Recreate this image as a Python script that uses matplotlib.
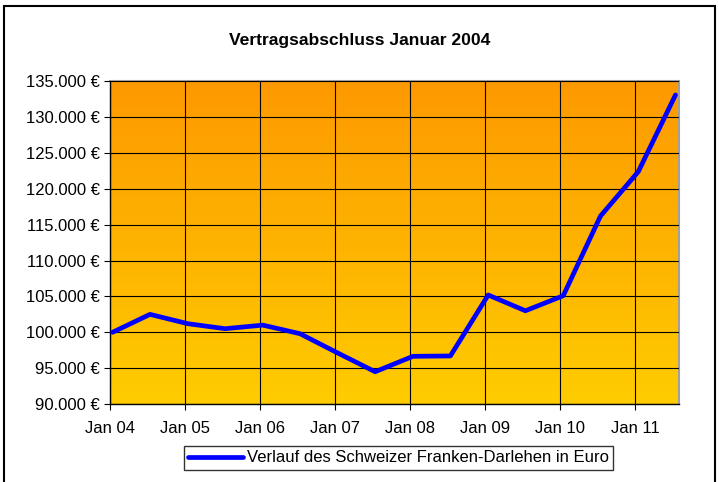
import matplotlib
matplotlib.use("Agg")
import matplotlib.pyplot as plt
import matplotlib.dates as mdates
from matplotlib.colors import LinearSegmentedColormap
from matplotlib.patches import Rectangle
import numpy as np
import datetime as dt

plt.rcParams['font.family'] = ['Liberation Sans', 'DejaVu Sans']

dates = ["2004-01-15", "2004-07-15", "2005-01-15", "2005-07-15", "2006-01-15", "2006-07-15",
         "2007-01-15", "2007-07-15", "2008-01-15", "2008-07-15", "2009-01-15", "2009-07-15",
         "2010-01-15", "2010-07-15", "2011-01-15", "2011-07-15"]
values = [100000, 102500, 101200, 100500, 101000, 99800, 97100, 94500,
          96650, 96700, 105200, 103000, 105100, 116200, 122400, 133100]
tick_years = [2004, 2005, 2006, 2007, 2008, 2009, 2010, 2011]
title = "Vertragsabschluss Januar 2004"
legend_label = "Verlauf des Schweizer Franken-Darlehen in Euro"

x = [dt.datetime.strptime(d, "%Y-%m-%d") for d in dates]

fig = plt.figure(figsize=(7.19, 4.82), dpi=100)
W, H = 719, 482
ax = fig.add_axes([109.7 / W, 1 - 404 / H, (679 - 109.7) / W, (404 - 81.3) / H])

xmin = dt.datetime(2004, 1, 1)
xmax = dt.datetime(2011, 8, 1)
ax.set_xlim(xmin, xmax)
ax.set_ylim(90000, 135000)

# gradient background
cmap = LinearSegmentedColormap.from_list("g", ["#FFCC00", "#FD9900"])
grad = np.linspace(0, 1, 256).reshape(-1, 1)
ax.imshow(grad, aspect='auto', cmap=cmap, origin='lower',
          extent=[0, 1, 0, 1], transform=ax.transAxes, zorder=0)

ax.set_xticks([dt.datetime(y, 1, 1) for y in tick_years])
ax.set_xticklabels([f"Jan {y % 100:02d}" for y in tick_years])
ax.set_yticks(np.arange(90000, 135001, 5000))
ax.yaxis.set_major_formatter(plt.FuncFormatter(lambda v, p: f"{int(v):,}".replace(",", ".") + " €"))

ax.grid(True, color='black', linewidth=0.8, zorder=1)
ax.set_axisbelow(False)
ax.tick_params(axis='both', direction='out', length=4, width=0.8, labelsize=12, colors='black')
ax.tick_params(axis='x', pad=8)
ax.tick_params(axis='y', pad=3)

ax.plot(x, values, color='#0000FF', linewidth=3.4, solid_joinstyle='round',
        solid_capstyle='round', label=legend_label, zorder=3, clip_on=False)

for s in ['top', 'right']:
    ax.spines[s].set_color('#A0A0A0')
    ax.spines[s].set_linewidth(1.5)
for s in ['left', 'bottom']:
    ax.spines[s].set_color('black')
    ax.spines[s].set_linewidth(1.0)

fig.text(360 / W, 1 - 40 / H, title, ha='center', va='center', fontsize=12.6, fontweight='bold')

leg = fig.legend(loc='center', bbox_to_anchor=(398.5 / W, 1 - 458 / H), fontsize=12,
                 frameon=True, fancybox=False, handlelength=3.3, handletextpad=0.2,
                 borderpad=0.25, borderaxespad=0)
leg.get_frame().set_edgecolor('black')
leg.get_frame().set_linewidth(1.0)

fig.patches.append(Rectangle((4 / W, -0.1), (715 - 4) / W, 1.1 - 6 / H, transform=fig.transFigure,
                             fill=False, edgecolor='black', linewidth=1.5))

fig.savefig("out.png", dpi=100)
